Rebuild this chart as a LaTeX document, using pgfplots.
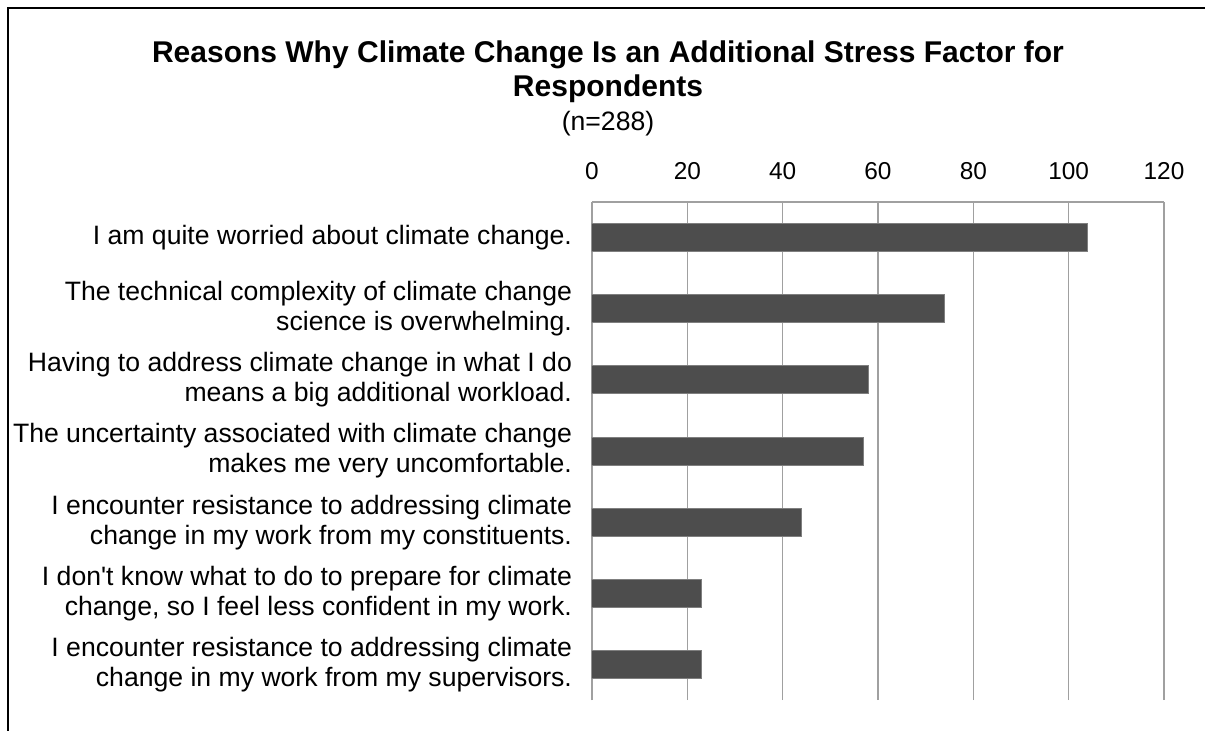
\documentclass[border=0pt]{standalone}
\usepackage{fontspec}
\setmainfont{Liberation Sans}
\usepackage{pgfplots}
\pgfplotsset{compat=1.18}
\definecolor{barfill}{HTML}{4D4D4D}
\definecolor{baredge}{HTML}{7F7F7F}
\definecolor{gridc}{HTML}{A0A0A0}
\begin{document}
\begin{tikzpicture}
\useasboundingbox (0,0) rectangle (602.5pt,-365pt);
% frame (only top and left edges are visible in the crop)
\draw[line width=1.3pt] (4pt,-366pt) -- (4pt,-4pt) -- (603pt,-4pt);
\node[font=\fontsize{15}{18}\selectfont\bfseries] at (304pt,-27.5pt) {Reasons Why Climate Change Is an Additional Stress Factor for};
\node[font=\fontsize{15}{18}\selectfont\bfseries] at (304pt,-44.5pt) {Respondents};
\node[font=\fontsize{13.3}{16}\selectfont] at (304pt,-62pt) {(n=288)};
\begin{axis}[
	at={(296pt,-101pt)}, anchor=north west,
	scale only axis, width=286pt, height=249pt,
	xbar, bar width=14pt,
	xmin=0, xmax=120, ymin=-0.5, ymax=6.5,
	xtick={0,20,...,120}, ytick={0,...,6},
	xticklabel pos=top,
	axis x line*=top, axis y line*=left,
	axis line style={gridc, line width=0.6pt, -},
	xmajorgrids, grid style={gridc, line width=0.6pt},
	major tick length=0pt,
	/pgf/number format/assume math mode=true,
	xticklabel style={font=\fontsize{12.2}{14}\selectfont, yshift=7.5pt},
	yticklabel style={align=right, font=\fontsize{13.3}{15}\selectfont, xshift=-6.5pt},
	yticklabels={
		{I encounter resistance to addressing climate\\change in my work from my supervisors.},
		{I don\textquotesingle t know what to do to prepare for climate\\change, so I feel less confident in my work.},
		{I encounter resistance to addressing climate\\change in my work from my constituents.},
		{The uncertainty associated with climate change\\makes me very uncomfortable.},
		{Having to address climate change in what I do\\means a big additional workload.},
		{The technical complexity of climate change\\science is overwhelming.},
		{I am quite worried about climate change.}
	},
]
\addplot+[fill=barfill, draw=baredge, line width=0.5pt] coordinates {
	(23,0)
	(23,1)
	(44,2)
	(57,3)
	(58,4)
	(74,5)
	(104,6)
};
\end{axis}
\end{tikzpicture}
\end{document}
